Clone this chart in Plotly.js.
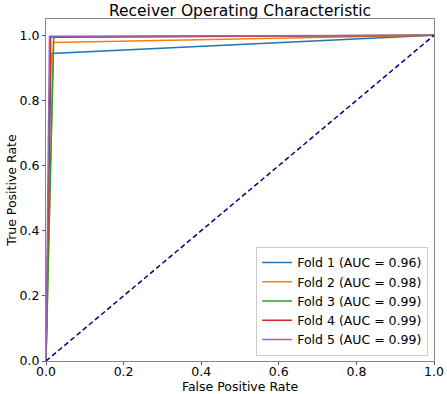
<!DOCTYPE html>
<html>
<head>
<meta charset="utf-8">
<script src="https://cdn.plot.ly/plotly-3.0.1.min.js"></script>
<style>
  body { margin: 0; background: #fff; }
  #chart { width: 447px; height: 394px; }
</style>
</head>
<body>
<div id="chart"></div>
<script>
// ── ROC data per fold ──
const foldNames = ["Fold 1", "Fold 2", "Fold 3", "Fold 4", "Fold 5"];
const foldAuc   = [0.96, 0.98, 0.99, 0.99, 0.99];
const foldFpr = [
    [0, 0.013, 1],
    [0, 0.019, 1],
    [0, 0.020, 1],
    [0, 0.012, 1],
    [0, 0.009, 1]
];
const foldTpr = [
    [0, 0.944, 1],
    [0, 0.978, 1],
    [0, 0.994, 1],
    [0, 0.995, 1],
    [0, 0.997, 1]
];
const colors = ["#1f77b4", "#ff7f0e", "#2ca02c", "#d62728", "#9467bd"];
const chanceX = [0, 1];
const chanceY = [0, 1];
const tickVals = [0, 0.2, 0.4, 0.6, 0.8, 1.0];
const tickText = ["0.0", "0.2", "0.4", "0.6", "0.8", "1.0"];

const traces = foldNames.map((name, i) => ({
    x: foldFpr[i],
    y: foldTpr[i],
    type: "scatter",
    mode: "lines",
    name: `${name} (AUC = ${foldAuc[i].toFixed(2)})`,
    line: { color: colors[i], width: 1.5 }
}));

// chance line
traces.push({
    x: chanceX,
    y: chanceY,
    type: "scatter",
    mode: "lines",
    showlegend: false,
    line: { color: "navy", width: 1.5, dash: "5px,3px" }
});

const axisBase = {
    showgrid: false,
    zeroline: false,
    showline: true,
    mirror: true,
    linecolor: "#888",
    linewidth: 1,
    ticks: "outside",
    ticklen: 3,
    tickcolor: "#555",
    tickvals: tickVals,
    ticktext: tickText,
    tickfont: { size: 12.5, color: "#000" },
    automargin: false
};

Plotly.newPlot("chart", traces, {
    width: 447,
    height: 394,
    font: { family: "DejaVu Sans", color: "#000" },
    paper_bgcolor: "#fff",
    plot_bgcolor: "#fff",
    margin: { l: 46, r: 13, t: 19, b: 33 },
    title: { text: "Receiver Operating Characteristic", font: { size: 15.5 }, x: 0.537, xanchor: "center", y: 0.988, yanchor: "top" },
    xaxis: Object.assign({}, axisBase, {
        range: [0, 1],
        ticklabelstandoff: -4,
        title: { text: "False Positive Rate", font: { size: 12.5 }, standoff: 0 }
    }),
    yaxis: Object.assign({}, axisBase, {
        range: [0, 1.05],
        title: { text: "True Positive Rate", font: { size: 12.5 }, standoff: 0 }
    }),
    legend: {
        x: 0.985, y: 0.015, xanchor: "right", yanchor: "bottom",
        bgcolor: "rgba(255,255,255,0.8)",
        bordercolor: "#ccc", borderwidth: 1,
        font: { size: 12.5 },
        tracegroupgap: 0
    },
    showlegend: true
}, { displayModeBar: false });
</script>
</body>
</html>
